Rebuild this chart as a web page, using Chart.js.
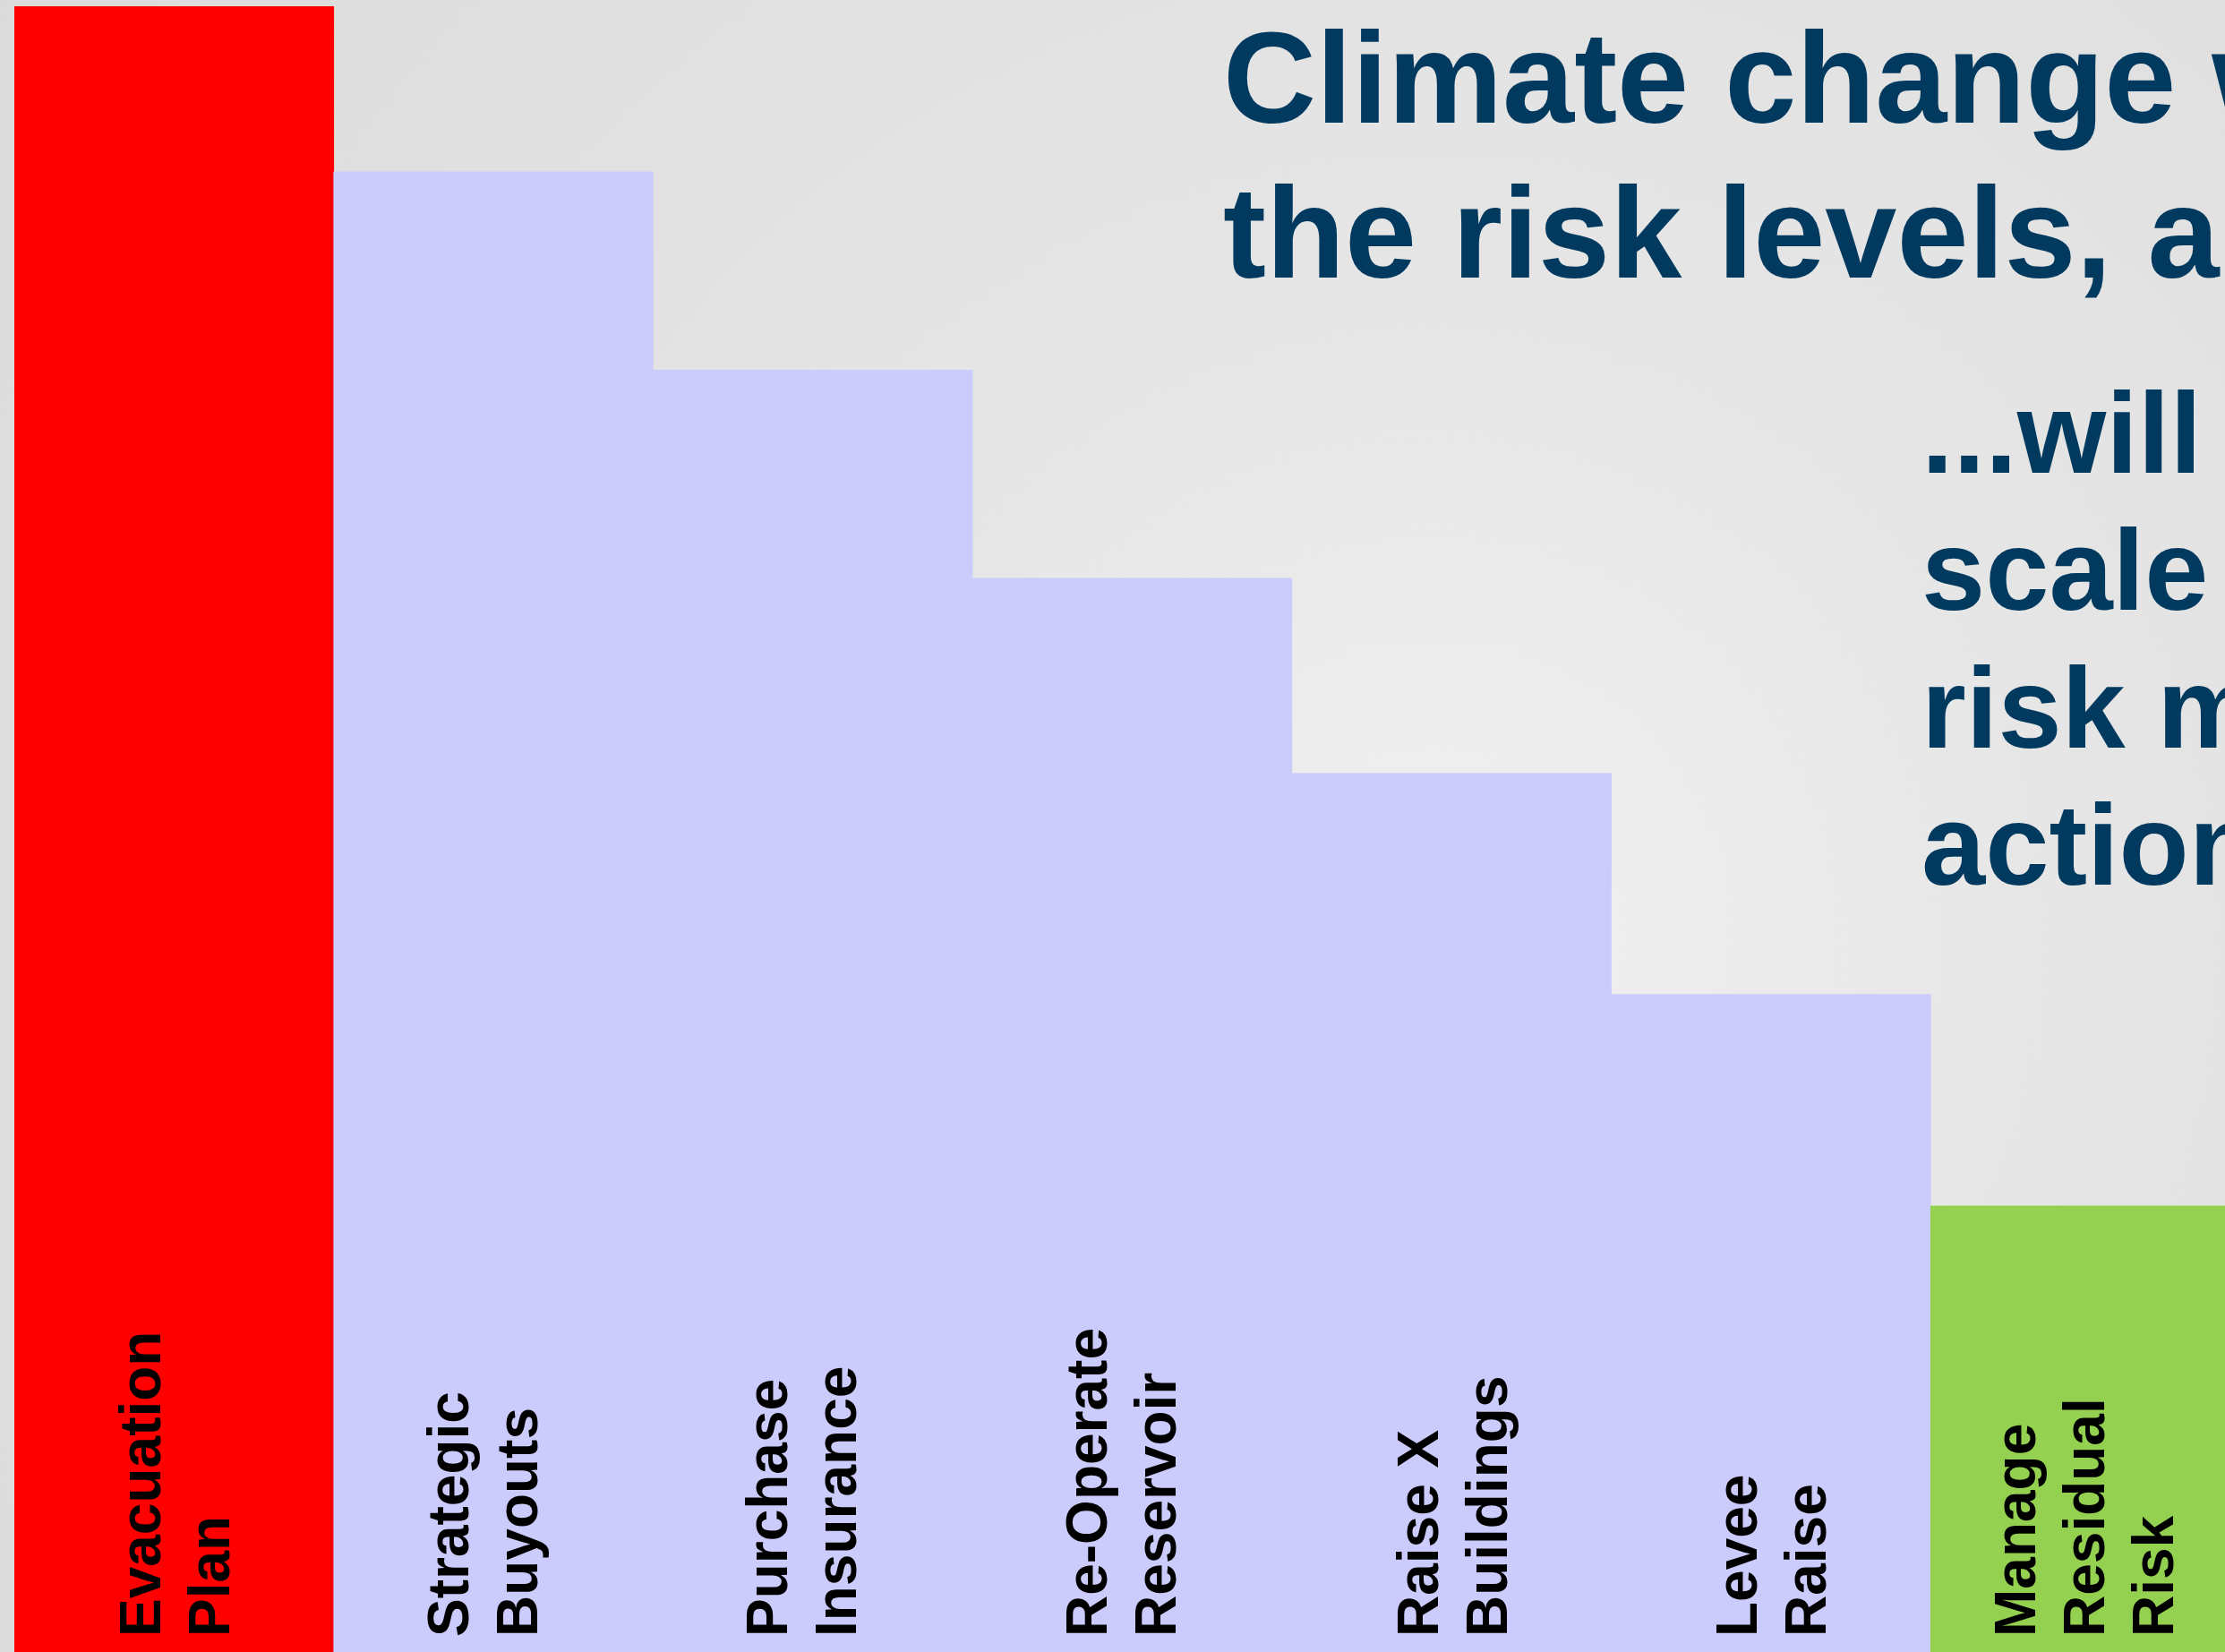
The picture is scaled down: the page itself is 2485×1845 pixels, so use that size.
<!DOCTYPE html>
<html>
<head>
<meta charset="utf-8">
<title>Climate change and risk management actions</title>
<script src="https://cdn.jsdelivr.net/npm/chart.js@4.4.1/dist/chart.umd.min.js"></script>
<style>
  html, body {
    margin: 0;
    padding: 0;
    width: 2485px;
    height: 1845px;
    overflow: hidden;
  }
  body {
    background: radial-gradient(circle 2000px at 1600px 1050px, #f1f1f1 0%, #e6e6e6 35%, #dadada 100%);
  }
  /* chart is a bit wider than the window, the last bar runs off the right edge */
  #wrap {
    position: absolute;
    left: 0;
    top: 0;
    width: 2513px;
    height: 1845px;
  }
</style>
</head>
<body>
<div id="wrap"><canvas id="chart" width="2513" height="1845"></canvas></div>
<script>
// actions, one per bar (each entry is the lines of the label)
const actions = [
  ["Evacuation", "Plan"],
  ["Strategic", "Buyouts"],
  ["Purchase", "Insurance"],
  ["Re-Operate", "Reservoir"],
  ["Raise X", "Buildings"],
  ["Levee", "Raise"],
  ["Manage", "Residual", "Risk"],
];

// remaining risk level after each action (0-100)
const riskLevels = [99.6, 89.6, 77.6, 65.0, 53.2, 39.8, 27.0];

const barColors = [
  "#ff0000",
  "#ccccfc",
  "#ccccfc",
  "#ccccfc",
  "#ccccfc",
  "#ccccfc",
  "#94d150",
];

const titleLines = ["Climate change will", "the risk levels, and"];
const noteLines = ["...will", "scale", "risk management", "actions"];

const FONT = '"Liberation Sans", Arial, Helvetica, sans-serif';

// draws the rotated labels inside the bars and the slide text
const textPlugin = {
  id: "slideText",
  afterDraw(chart, args, opts) {
    const ctx = chart.ctx;
    const meta = chart.getDatasetMeta(0);

    // bar labels, reading bottom to top
    ctx.save();
    ctx.fillStyle = "#000000";
    ctx.font = "bold 64px " + FONT;
    ctx.textAlign = "left";
    ctx.textBaseline = "alphabetic";
    meta.data.forEach((bar, i) => {
      const lines = chart.data.labels[i];
      const step = opts.lineStep;
      // centre the block of lines on the bar
      const first = bar.x - ((lines.length - 1) * step) / 2 + 23 + (opts.nudge[i] || 0);
      lines.forEach((line, j) => {
        ctx.save();
        ctx.translate(first + j * step, opts.labelBottom);
        ctx.rotate(-Math.PI / 2);
        ctx.fillText(line, 0, 0);
        ctx.restore();
      });
    });
    ctx.restore();

    // heading
    ctx.save();
    ctx.fillStyle = "#023a5f";
    ctx.textAlign = "left";
    ctx.textBaseline = "alphabetic";
    ctx.font = "bold 144px " + FONT;
    titleLines.forEach((line, i) => {
      ctx.fillText(line, 1366, 137 + i * 173);
    });
    ctx.font = "bold 128px " + FONT;
    noteLines.forEach((line, i) => {
      ctx.fillText(line, 2146, 528 + i * 153.3);
    });
    ctx.restore();
  },
};

new Chart(document.getElementById("chart"), {
  type: "bar",
  data: {
    labels: actions,
    datasets: [
      {
        data: riskLevels,
        backgroundColor: barColors,
        borderWidth: 0,
        categoryPercentage: 1.0,
        barPercentage: 1.0,
      },
    ],
  },
  options: {
    responsive: false,
    animation: false,
    devicePixelRatio: 1,
    layout: { padding: { left: 16, right: 0, top: 0, bottom: 0 } },
    scales: {
      x: { display: false, grid: { display: false } },
      y: { display: false, min: 0, max: 100, grid: { display: false } },
    },
    plugins: {
      legend: { display: false },
      tooltip: { enabled: false },
      slideText: {
        lineStep: 77,
        labelBottom: 1828,
        nudge: [0, -13, -13, -13, 0, 0, -8],
      },
    },
  },
  plugins: [textPlugin],
});
</script>
</body>
</html>
